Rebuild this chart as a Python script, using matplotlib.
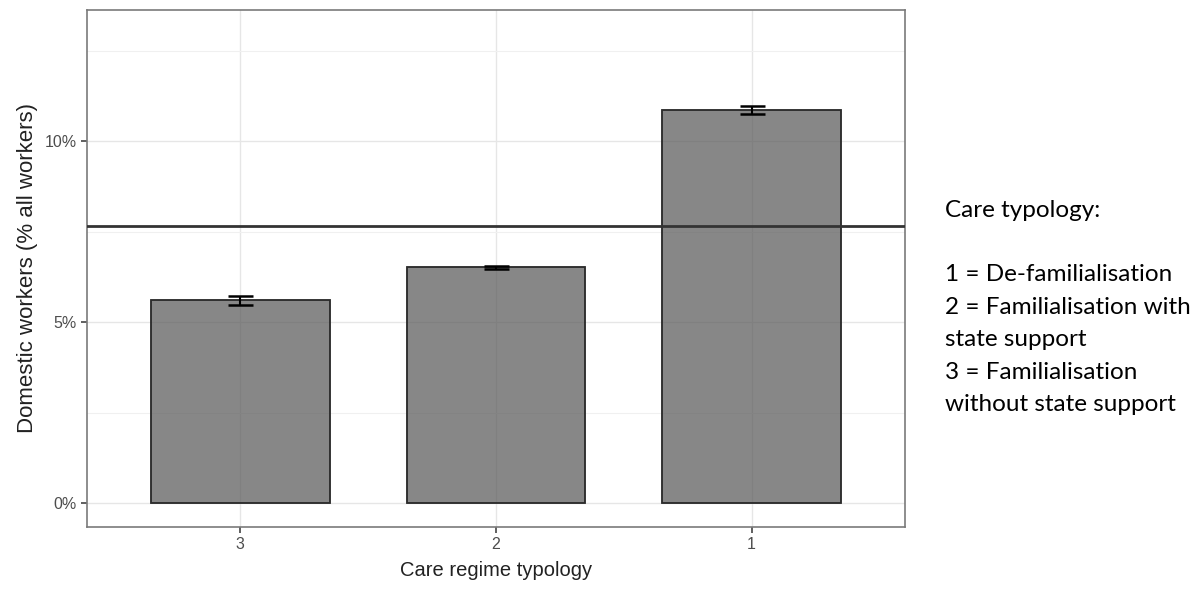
import matplotlib
matplotlib.use('Agg')
import matplotlib.pyplot as plt
from matplotlib.ticker import FuncFormatter, MultipleLocator

plt.rcParams['font.family'] = ['Liberation Sans', 'DejaVu Sans']

# data
categories = ['3', '2', '1']
share = [5.62, 6.52, 10.86]
err_lo = [5.49, 6.47, 10.75]
err_hi = [5.73, 6.57, 10.98]
overall_mean = 7.66
legend_lines = ['Care typology:', '', '1 = De-familialisation',
                '2 = Familialisation with', 'state support',
                '3 = Familialisation', 'without state support']

fig = plt.figure(figsize=(12, 5.9), dpi=100)
ax = fig.add_axes([0.0725, 0.1068, 0.6817, 0.8763])

x = [1, 2, 3]
ax.grid(True, which='major', color='#e6e6e6', lw=1.0, zorder=0)
ax.grid(True, which='minor', axis='y', color='#f0f0f0', lw=0.8, zorder=0)
ax.set_axisbelow(True)

ax.bar(x, share, width=0.7, color='#555555', alpha=0.7,
       edgecolor='#2b2b2b', linewidth=1.2, zorder=2)
ax.bar(x, share, width=0.7, facecolor='none',
       edgecolor='#2b2b2b', linewidth=1.2, zorder=3)

yerr = [[s - lo for s, lo in zip(share, err_lo)],
        [hi - s for s, hi in zip(share, err_hi)]]
ax.errorbar(x, share, yerr=yerr, fmt='none', ecolor='black',
            elinewidth=1.5, capsize=9, capthick=1.8, zorder=4)

ax.axhline(overall_mean, color='#333333', lw=2, zorder=5)

ax.set_xlim(0.4, 3.6)
ax.set_ylim(-0.65, 13.63)
ax.set_xticks(x)
ax.set_xticklabels(categories)
ax.yaxis.set_major_locator(MultipleLocator(5))
ax.yaxis.set_minor_locator(MultipleLocator(2.5))
ax.yaxis.set_major_formatter(FuncFormatter(lambda v, p: '%d%%' % v))

for sp in ax.spines.values():
    sp.set_color('#7a7a7a')
    sp.set_linewidth(1.2)
ax.tick_params(axis='both', which='major', length=4, width=1.2,
               color='#444444', labelcolor='#4d4d4d', labelsize=11.5)
ax.tick_params(axis='y', which='minor', length=0)

ax.set_xlabel('Care regime typology', fontsize=14.5, color='#222222', labelpad=6)
ax.set_ylabel('Domestic workers (% all workers)', fontsize=16,
              color='#222222', labelpad=5)

y0 = 0.644
for i, t in enumerate(legend_lines):
    fig.text(0.7875, y0 - i * 0.055, t, fontsize=17.5, family='Lato',
             color='black', va='center', ha='left')

fig.savefig('out.png', dpi=100)
